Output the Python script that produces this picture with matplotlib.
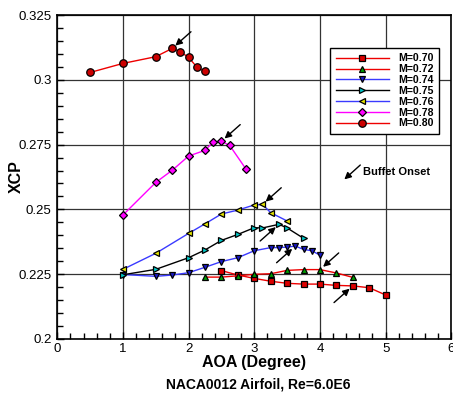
import matplotlib
matplotlib.use("Agg")
import matplotlib.pyplot as plt
from matplotlib.ticker import MultipleLocator

plt.rcParams['font.family'] = ['Liberation Sans', 'DejaVu Sans']

# ---- data ----
aoa_070 = [2.5, 2.75, 3.0, 3.25, 3.5, 3.75, 4.0, 4.25, 4.5, 4.75, 5.0]
xcp_070 = [0.2263, 0.2246, 0.2233, 0.2222, 0.2214, 0.2211, 0.2211, 0.2206, 0.2204, 0.2197, 0.2169]

aoa_072 = [2.25, 2.5, 2.75, 3.0, 3.25, 3.5, 3.75, 4.0, 4.25, 4.5]
xcp_072 = [0.2238, 0.2238, 0.2243, 0.2249, 0.2251, 0.2264, 0.2267, 0.2267, 0.2254, 0.2237]

aoa_074 = [1.0, 1.5, 1.75, 2.0, 2.25, 2.5, 2.75, 3.0, 3.25, 3.375, 3.5, 3.625, 3.75, 3.875, 4.0]
xcp_074 = [0.2248, 0.2241, 0.2246, 0.2255, 0.2276, 0.2298, 0.2313, 0.2340, 0.2352, 0.2352, 0.2354, 0.2358, 0.2345, 0.2340, 0.2323]

aoa_075 = [1.0, 1.5, 2.0, 2.25, 2.5, 2.75, 3.0, 3.125, 3.375, 3.5, 3.75]
xcp_075 = [0.2247, 0.2268, 0.2313, 0.2343, 0.2380, 0.2403, 0.2429, 0.2428, 0.2442, 0.2428, 0.2388]

aoa_076 = [1.0, 1.5, 2.0, 2.25, 2.5, 2.75, 3.0, 3.125, 3.25, 3.5]
xcp_076 = [0.2268, 0.2330, 0.2407, 0.2444, 0.2482, 0.2497, 0.2517, 0.2519, 0.2487, 0.2455]

aoa_078 = [1.0, 1.5, 1.75, 2.0, 2.25, 2.375, 2.5, 2.625, 2.875]
xcp_078 = [0.2478, 0.2604, 0.2651, 0.2706, 0.2728, 0.2761, 0.2763, 0.2747, 0.2655]

aoa_080 = [0.5, 1.0, 1.5, 1.75, 1.875, 2.0, 2.125, 2.25]
xcp_080 = [0.3029, 0.3064, 0.3090, 0.3122, 0.3109, 0.3087, 0.3050, 0.3033]

labels = ["M=0.70", "M=0.72", "M=0.74", "M=0.75", "M=0.76", "M=0.78", "M=0.80"]
# index of buffet-onset point in each series, and arrow side ('ur' upper-right, 'll' lower-left)
buffet_idx = [8, 7, 11, 8, 7, 6, 3]
buffet_side = ['ll', 'ur', 'll', 'll', 'ur', 'ur', 'ur']

series = [(aoa_070, xcp_070), (aoa_072, xcp_072), (aoa_074, xcp_074), (aoa_075, xcp_075),
          (aoa_076, xcp_076), (aoa_078, xcp_078), (aoa_080, xcp_080)]
line_colors = ['#ee0000', '#ee0000', '#3a3aff', '#000000', '#3a3aff', '#ff00ff', '#ee0000']
face_colors = ['#dd0000', '#00a000', '#1a1ac8', '#00c8c8', '#e6e600', '#ff00ff', '#cc0000']
markers = ['s', '^', 'v', '>', '<', 'D', 'o']
msizes = [4.2, 4.2, 4.5, 4.2, 4.5, 3.6, 5.4]

fig = plt.figure(figsize=(4.53, 3.94), dpi=100)
ax = fig.add_axes([0.1265, 0.1404, 0.8697, 0.8208])

for (x, y), lc, fc, m, ms, lab in zip(series, line_colors, face_colors, markers, msizes, labels):
    ax.plot(x, y, color=lc, lw=1.0, marker=m, ms=ms, mfc=fc, mec='black', mew=0.9, label=lab, zorder=3)

arrow_kw = dict(arrowstyle='-|>', color='black', lw=1.0, mutation_scale=10, shrinkA=0, shrinkB=3)
for (x, y), i, side in zip(series, buffet_idx, buffet_side):
    off = (13.5, 12) if side == 'ur' else (-13.5, -12)
    ax.annotate('', xy=(x[i], y[i]), xytext=off, textcoords='offset points',
                arrowprops=arrow_kw, zorder=4)

# legend explanation arrow
ax.annotate('', xy=(0.7285, 0.4925), xytext=(0.769, 0.537), xycoords='axes fraction',
            arrowprops=dict(arrowstyle='-|>', color='black', lw=1.0, mutation_scale=10,
                            shrinkA=0, shrinkB=0))
ax.text(0.7765, 0.516, 'Buffet Onset', transform=ax.transAxes, fontsize=8,
        fontweight='bold', va='center', ha='left')

ax.set_xlim(0, 6)
ax.set_ylim(0.2, 0.325)
ax.xaxis.set_major_locator(MultipleLocator(1))
ax.xaxis.set_minor_locator(MultipleLocator(0.2))
ax.yaxis.set_minor_locator(MultipleLocator(0.005))
ax.set_yticks([0.2, 0.225, 0.25, 0.275, 0.3, 0.325])
ax.set_yticklabels(['0.2', '0.225', '0.25', '0.275', '0.3', '0.325'])
ax.tick_params(which='both', direction='in', top=False, right=False, labelsize=9.5, width=1.0)
ax.tick_params(which='major', length=5)
ax.tick_params(which='minor', length=4)
ax.tick_params(axis='x', pad=3)
ax.tick_params(axis='y', pad=4)
ax.grid(True, which='major', color='#333333', lw=0.9)
ax.set_axisbelow(True)
for s in ax.spines.values():
    s.set_linewidth(1.2)

ax.set_xlabel('AOA (Degree)', fontsize=11.5, fontweight='bold', labelpad=0)
ax.set_ylabel('XCP', fontsize=11.5, fontweight='bold')
ax.yaxis.set_label_coords(-0.086, 0.5)
fig.text(0.569, 0.025, 'NACA0012 Airfoil, Re=6.0E6', fontsize=10, fontweight='bold',
         ha='center', va='center')

leg = ax.legend(loc='upper left', bbox_to_anchor=(0.692, 0.9), borderaxespad=0,
                prop={'weight': 'bold', 'size': 7.6}, handlelength=5.0, numpoints=1,
                labelspacing=0.08, borderpad=0.55, handletextpad=0.9, frameon=True,
                fancybox=False, edgecolor='black', framealpha=1)
leg.get_frame().set_linewidth(1.0)
leg.set_zorder(5)

fig.savefig('out.png', dpi=100)
